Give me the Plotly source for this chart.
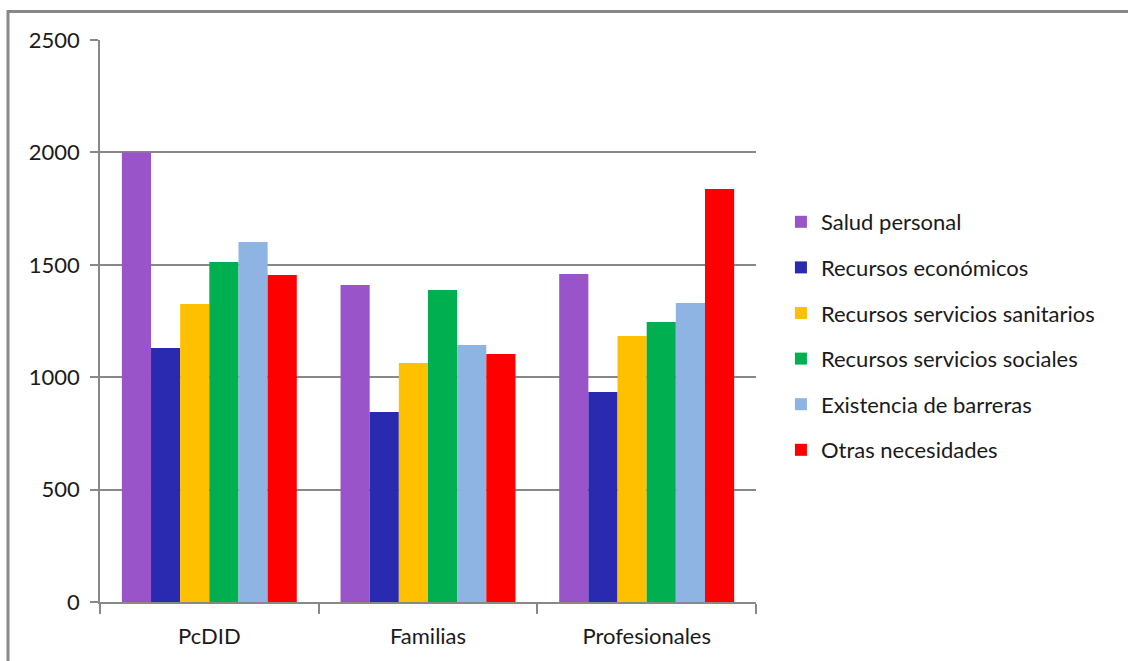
import plotly.graph_objects as go

categories = ["PcDID", "Familias", "Profesionales"]

series_names = [
    "Salud personal",
    "Recursos económicos",
    "Recursos servicios sanitarios",
    "Recursos servicios sociales",
    "Existencia de barreras",
    "Otras necesidades",
]

salud_personal = [2000, 1410, 1459]
recursos_economicos = [1130, 845, 934]
recursos_sanitarios = [1326, 1063, 1183]
recursos_sociales = [1512, 1388, 1246]
existencia_barreras = [1601, 1143, 1330]
otras_necesidades = [1455, 1103, 1837]

series_values = [
    salud_personal,
    recursos_economicos,
    recursos_sanitarios,
    recursos_sociales,
    existencia_barreras,
    otras_necesidades,
]

colors = ["#9954C9", "#2A2AB0", "#FFC000", "#00B050", "#8EB4E3", "#FF0000"]

y_ticks = [0, 500, 1000, 1500, 2000, 2500]

FONT = "Lato, 'DejaVu Sans', sans-serif"

fig = go.Figure()
for name, vals, col in zip(series_names, series_values, colors):
    fig.add_trace(go.Bar(
        x=categories, y=vals, name=name, legendgroup=name,
        marker=dict(color=col, line=dict(width=0)),
    ))

fig.update_layout(
    width=1128, height=661,
    margin=dict(l=100, r=372, t=40, b=59),
    paper_bgcolor="white", plot_bgcolor="white",
    barmode="group", bargap=0.2, bargroupgap=0,
    font=dict(family=FONT, size=22, color="#1a1a1a"),
    showlegend=True,
    legend=dict(
        x=1.038, y=(602 - 201) / 562, xanchor="left", yanchor="top",
        font=dict(family=FONT, size=22, color="#1a1a1a"),
        tracegroupgap=14, bgcolor="rgba(0,0,0,0)",
    ),
    xaxis=dict(
        showline=True, linecolor="#888888", linewidth=1.5,
        ticks="outside", tickson="boundaries", ticklen=10,
        tickcolor="#888888", tickwidth=1.5,
        showgrid=False, tickfont=dict(size=22), ticklabelstandoff=14,
    ),
    yaxis=dict(
        range=[0, 2500], tickvals=y_ticks,
        showline=True, linecolor="#888888", linewidth=1.5,
        ticks="outside", ticklen=8, tickcolor="#888888", tickwidth=1.5,
        showgrid=True, gridcolor="#888888", gridwidth=1.5,
        zeroline=False, tickfont=dict(size=22), ticklabelstandoff=6,
    ),
    shapes=[dict(
        type="rect", xref="paper", yref="paper",
        x0=(8 - 100) / 656, x1=(1160 - 100) / 656,
        y0=(602 - 700) / 562, y1=(602 - 11.5) / 562,
        line=dict(color="#888888", width=3), fillcolor="rgba(0,0,0,0)",
        layer="below",
    )],
)

fig.write_html("out.html")
